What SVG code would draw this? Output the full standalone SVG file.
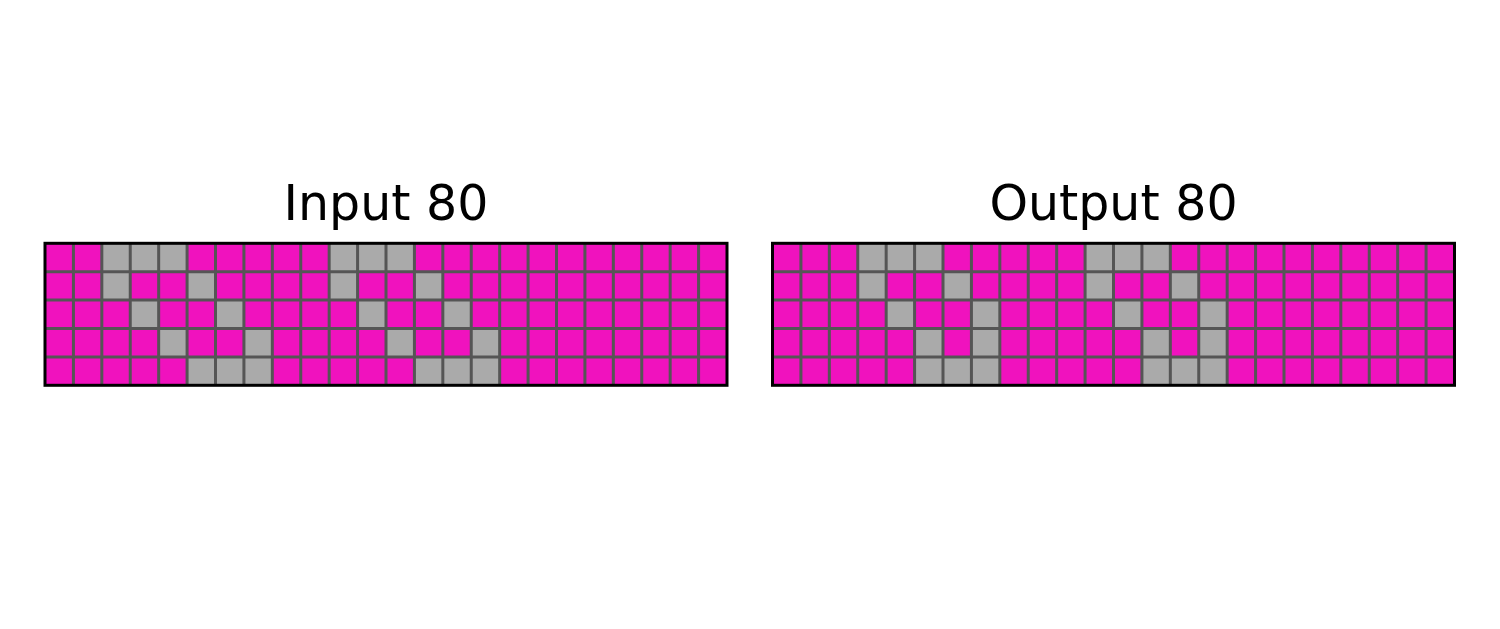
<svg xmlns="http://www.w3.org/2000/svg" width="1500" height="629" viewBox="0 0 1500 629">
<style>
.bg{fill:#F012BE}
.g{fill:#AAAAAA}
.grid{fill:none;stroke:#555555;stroke-width:3}
.frame{fill:none;stroke:#000000;stroke-width:3}
.title{font-family:"DejaVu Sans","Liberation Sans",sans-serif;font-size:49px;fill:#000000;text-anchor:middle}
</style>
<rect width="1500" height="629" fill="#ffffff"/>
<defs>
<path id="lines" d="M28.42 0V142M56.83 0V142M85.25 0V142M113.67 0V142M142.08 0V142M170.5 0V142M198.92 0V142M227.33 0V142M255.75 0V142M284.17 0V142M312.58 0V142M341 0V142M369.42 0V142M397.83 0V142M426.25 0V142M454.67 0V142M483.08 0V142M511.5 0V142M539.92 0V142M568.33 0V142M596.75 0V142M625.17 0V142M653.58 0V142M0 28.4H682M0 56.8H682M0 85.2H682M0 113.6H682"/>
</defs>
<g id="input-grid">
<text class="title" x="386" y="220">Input 80</text>
<g transform="translate(45 243.3)">
<g transform="scale(28.4167 28.4)">
<rect class="bg" x="0" y="0" width="24" height="5"/>
<g class="g">
<rect x="2" y="0" width="1" height="1"/><rect x="3" y="0" width="1" height="1"/><rect x="4" y="0" width="1" height="1"/><rect x="10" y="0" width="1" height="1"/><rect x="11" y="0" width="1" height="1"/><rect x="12" y="0" width="1" height="1"/>
<rect x="2" y="1" width="1" height="1"/><rect x="5" y="1" width="1" height="1"/><rect x="10" y="1" width="1" height="1"/><rect x="13" y="1" width="1" height="1"/>
<rect x="3" y="2" width="1" height="1"/><rect x="6" y="2" width="1" height="1"/><rect x="11" y="2" width="1" height="1"/><rect x="14" y="2" width="1" height="1"/>
<rect x="4" y="3" width="1" height="1"/><rect x="7" y="3" width="1" height="1"/><rect x="12" y="3" width="1" height="1"/><rect x="15" y="3" width="1" height="1"/>
<rect x="5" y="4" width="1" height="1"/><rect x="6" y="4" width="1" height="1"/><rect x="7" y="4" width="1" height="1"/><rect x="13" y="4" width="1" height="1"/><rect x="14" y="4" width="1" height="1"/><rect x="15" y="4" width="1" height="1"/>
</g>
</g>
<use href="#lines" class="grid"/>
<rect class="frame" x="0" y="0" width="682" height="142"/>
</g>
</g>
<g id="output-grid">
<text class="title" x="1113.5" y="220">Output 80</text>
<g transform="translate(772.5 243.3)">
<g transform="scale(28.4167 28.4)">
<rect class="bg" x="0" y="0" width="24" height="5"/>
<g class="g">
<rect x="3" y="0" width="1" height="1"/><rect x="4" y="0" width="1" height="1"/><rect x="5" y="0" width="1" height="1"/><rect x="11" y="0" width="1" height="1"/><rect x="12" y="0" width="1" height="1"/><rect x="13" y="0" width="1" height="1"/>
<rect x="3" y="1" width="1" height="1"/><rect x="6" y="1" width="1" height="1"/><rect x="11" y="1" width="1" height="1"/><rect x="14" y="1" width="1" height="1"/>
<rect x="4" y="2" width="1" height="1"/><rect x="7" y="2" width="1" height="1"/><rect x="12" y="2" width="1" height="1"/><rect x="15" y="2" width="1" height="1"/>
<rect x="5" y="3" width="1" height="1"/><rect x="7" y="3" width="1" height="1"/><rect x="13" y="3" width="1" height="1"/><rect x="15" y="3" width="1" height="1"/>
<rect x="5" y="4" width="1" height="1"/><rect x="6" y="4" width="1" height="1"/><rect x="7" y="4" width="1" height="1"/><rect x="13" y="4" width="1" height="1"/><rect x="14" y="4" width="1" height="1"/><rect x="15" y="4" width="1" height="1"/>
</g>
</g>
<use href="#lines" class="grid"/>
<rect class="frame" x="0" y="0" width="682" height="142"/>
</g>
</g>
</svg>
